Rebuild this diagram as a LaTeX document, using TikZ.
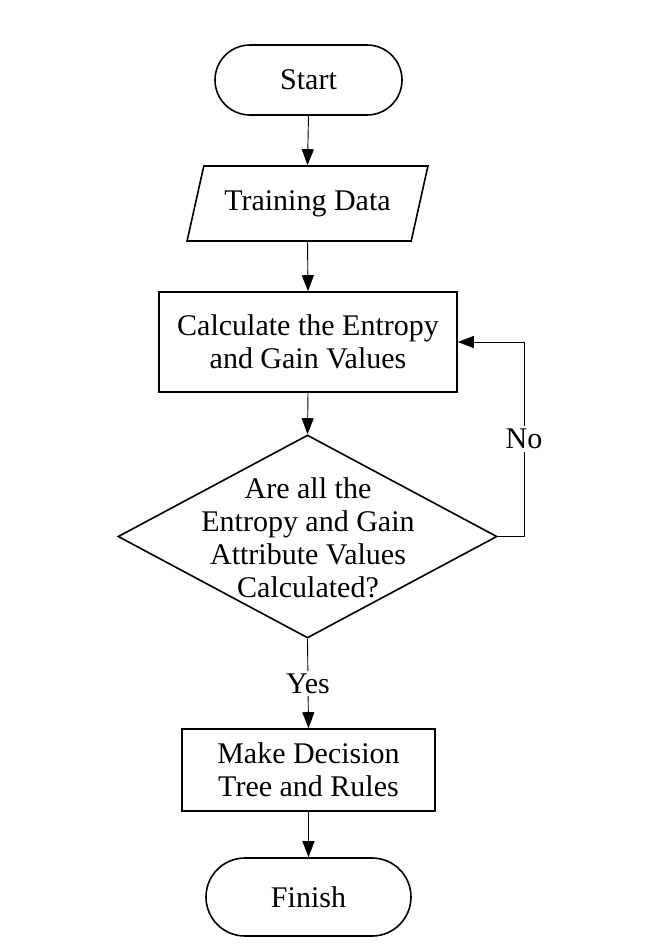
\documentclass[tikz,border=0pt]{standalone}
\usepackage{fontspec}
\setmainfont{Liberation Serif}
\usetikzlibrary{shapes.geometric,arrows.meta}
\begin{document}
\begin{tikzpicture}[x=1pt,y=-1pt,
  every node/.style={font=\fontsize{30}{33}\selectfont},
  box/.style={draw, line width=1.6pt, inner sep=0pt, align=center},
  conn/.style={line width=0.9pt, -{Triangle[length=16pt,width=12pt]}},
  lbl/.style={fill=white, inner sep=3pt}
]
\useasboundingbox[fill=white] (0,0) rectangle (656,946);

\node[box, rounded corners=35pt, minimum width=187pt, minimum height=70pt] (start) at (308.5,80) {Start};
\node[box, trapezium, trapezium left angle=63, trapezium right angle=117, trapezium stretches=true, minimum width=241pt, minimum height=75pt] (td) at (307.5,203.5) {Training Data};
\node[box, minimum width=298pt, minimum height=100pt] (calc) at (308,342) {Calculate the Entropy\\and Gain Values};
\node[box, diamond, minimum width=379pt, minimum height=203pt] (dec) at (307.5,536.5) {};
\node[align=center, inner sep=0pt] (dectext) at (308,538) {Are all the\\Entropy and Gain\\Attribute Values\\Calculated?};
\node[box, minimum width=253pt, minimum height=82pt] (make) at (308.5,770) {Make Decision\\Tree and Rules};
\node[box, rounded corners=39pt, minimum width=205pt, minimum height=78pt] (finish) at (308.5,897) {Finish};

\coordinate (c1) at (524,536.5);
\coordinate (c2) at (524,342);

\draw[conn] (start.south) -- (td.north);
\draw[conn] (td.south) -- (calc.north);
\draw[conn] (calc.south) -- (dec.north);
\draw[conn] (dec.south) -- node[lbl] (yes) {Yes} (make.north);
\draw[conn] (make.south) -- (finish.north);
\draw[conn] (dec.east) -- (c1) -- node[lbl] (no) {No} (c2) -- (calc.east);
\end{tikzpicture}
\end{document}
